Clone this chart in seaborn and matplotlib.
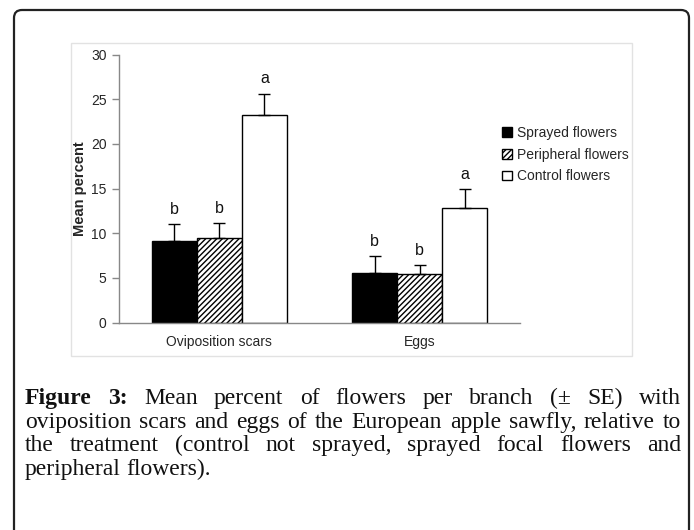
import pandas as pd
import matplotlib.pyplot as plt
import matplotlib.patches as mpatches
from matplotlib.transforms import IdentityTransform
import seaborn as sns

# data
measures = ['Oviposition scars', 'Eggs']
treatments = ['Sprayed flowers', 'Peripheral flowers', 'Control flowers']
sprayed = [9.1, 5.5]
peripheral = [9.5, 5.4]
control = [23.2, 12.8]
se_sprayed = [1.9, 1.9]
se_peripheral = [1.6, 1.0]
se_control = [2.4, 2.1]
letters_sprayed = ['b', 'b']
letters_peripheral = ['b', 'b']
letters_control = ['a', 'a']

caption_lines = [
    [('Figure', 'bold'), ('3:', 'bold'), 'Mean', 'percent', 'of', 'flowers', 'per',
     'branch', '(±', 'SE)', 'with'],
    'oviposition scars and eggs of the European apple sawfly, relative to'.split(),
    'the treatment (control not sprayed, sprayed focal flowers and'.split(),
    'peripheral flowers).'.split(),
]

df = pd.DataFrame({
    'measure': measures * 3,
    'treatment': [t for t in treatments for _ in measures],
    'mean': sprayed + peripheral + control,
    'se': se_sprayed + se_peripheral + se_control,
    'letter': letters_sprayed + letters_peripheral + letters_control,
})

sns.set_style('white')
plt.rcParams['font.family'] = ['Liberation Sans', 'DejaVu Sans']
plt.rcParams['hatch.linewidth'] = 1.0

W, H = 694, 530
fig = plt.figure(figsize=(W / 100, H / 100), dpi=100)

# outer rounded box and the light frame of the chart picture
fig.add_artist(mpatches.FancyBboxPatch((14, -30), 675, 550,
                                       boxstyle='round,pad=0,rounding_size=8',
                                       transform=IdentityTransform(), fill=False,
                                       ec='#222222', lw=1.6))
fig.add_artist(mpatches.Rectangle((71, H - 356), 561, 313, transform=IdentityTransform(),
                                  fill=False, ec='#e2e2e2', lw=1))

ax = fig.add_axes([119 / W, (H - 322.5) / H, 401 / W, (322.5 - 54.5) / H])
colors = {'Sprayed flowers': 'black', 'Peripheral flowers': 'white', 'Control flowers': 'white'}
sns.barplot(data=df, x='measure', y='mean', hue='treatment', palette=colors,
            width=0.675, edgecolor='black', linewidth=1, errorbar=None,
            legend=False, ax=ax, zorder=2)

for bar in ax.containers[1]:
    bar.set_hatch('//////')

# error bars (upper only) and significance letters
for cont, t in zip(ax.containers, treatments):
    sub = df[df['treatment'] == t]
    xs = [b.get_x() + b.get_width() / 2 for b in cont]
    ys = list(sub['mean'])
    ses = list(sub['se'])
    ax.errorbar(xs, ys, yerr=[[0] * len(ses), ses], fmt='none', ecolor='black',
                elinewidth=1, capsize=4, capthick=1, zorder=3)
    for x, y, s, l in zip(xs, ys, ses, sub['letter']):
        ax.text(x, y + s + 1.7, l, ha='center', va='center', fontsize=11.5, color='#111111')

ax.set_xlim(-0.5, 1.5)
ax.set_ylim(0, 30)
ax.set_yticks(range(0, 31, 5))
ax.set_xticks([-0.5, 0.5, 1.5])
ax.set_xticklabels([])
ax.set_xticks([0, 1], minor=True)
ax.set_xticklabels(measures, minor=True)
ax.tick_params(axis='x', which='minor', length=0, pad=9, labelsize=10)
ax.tick_params(axis='x', which='major', length=5, direction='out', color='#888888', width=1)
ax.tick_params(axis='y', length=5, direction='out', color='#888888', width=1, pad=4,
               labelsize=10, left=True)
ax.set_xlabel('')
ax.set_ylabel('Mean percent', fontsize=10.5, fontweight='bold', labelpad=2.5)
for side in ['top', 'right']:
    ax.spines[side].set_visible(False)
for side in ['left', 'bottom']:
    ax.spines[side].set_color('#888888')
    ax.spines[side].set_linewidth(1)

handles = [mpatches.Patch(facecolor='black', edgecolor='black'),
           mpatches.Patch(facecolor='white', edgecolor='black', hatch='//////'),
           mpatches.Patch(facecolor='white', edgecolor='black')]
fig.legend(handles, treatments, loc='upper left', bbox_to_anchor=(502 / W, 1 - 126 / H),
           frameon=False, fontsize=10, handlelength=0.7, handleheight=0.7,
           handletextpad=0.4, labelspacing=0.55, borderpad=0, borderaxespad=0)

# justified caption
renderer = fig.canvas.get_renderer()
left, right = 25, 681
baselines = [404, 427.7, 451.4, 475]
for i, (words, yb) in enumerate(zip(caption_lines, baselines)):
    items = [w if isinstance(w, tuple) else (w, 'normal') for w in words]
    texts = [fig.text(0, 1 - yb / H, w, fontsize=17, fontweight=wt, va='baseline',
                      family=['Liberation Serif', 'DejaVu Serif'], color='#111111')
             for w, wt in items]
    widths = [t.get_window_extent(renderer).width for t in texts]
    if i < len(caption_lines) - 1:
        gap = (right - left - sum(widths)) / (len(texts) - 1)
    else:
        gap = 5.5
    x = left
    for t, w in zip(texts, widths):
        t.set_x(x / W)
        x += w + gap

fig.savefig('out.png', dpi=100)
